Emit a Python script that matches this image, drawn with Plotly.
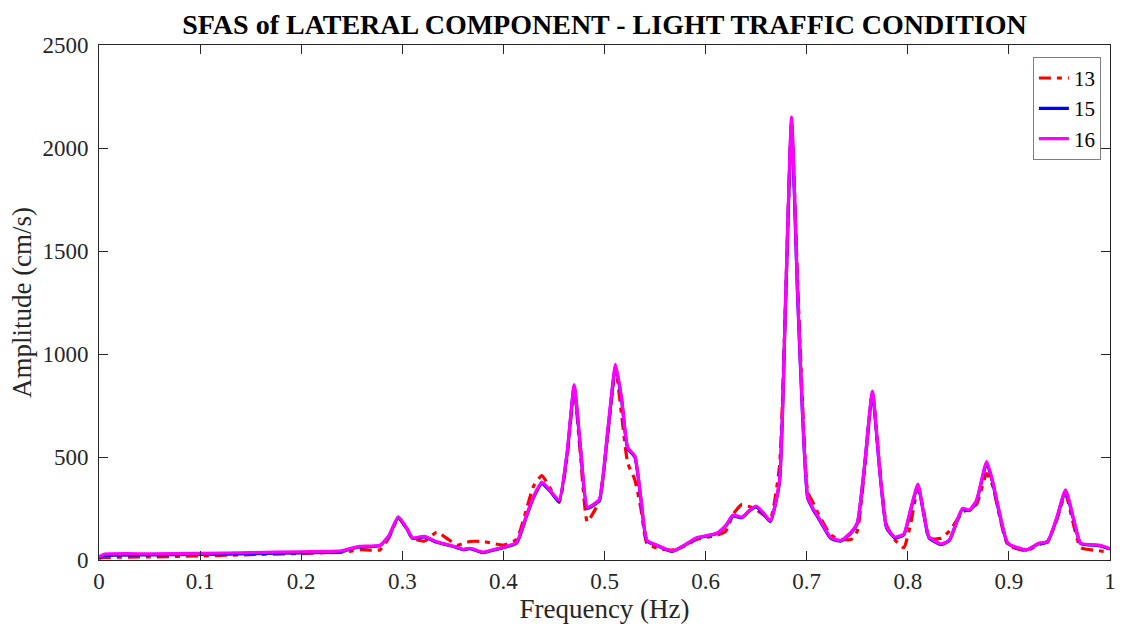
import plotly.graph_objects as go

freq = [0, 0.005, 0.05, 0.1, 0.15, 0.2, 0.24, 0.248, 0.258, 0.278, 0.287, 0.296, 0.305, 0.31,
        0.322, 0.334, 0.347, 0.354, 0.36, 0.367, 0.38, 0.39, 0.4, 0.413, 0.423, 0.43, 0.438,
        0.446, 0.455, 0.463, 0.47, 0.476, 0.483, 0.489, 0.495, 0.503, 0.511, 0.517, 0.523,
        0.53, 0.536, 0.542, 0.552, 0.567, 0.58, 0.591, 0.611, 0.62, 0.627, 0.636, 0.643, 0.65,
        0.657, 0.664, 0.673, 0.679, 0.685, 0.691, 0.696, 0.701, 0.706, 0.712, 0.724, 0.734,
        0.744, 0.75, 0.757, 0.765, 0.772, 0.779, 0.787, 0.796, 0.803, 0.81, 0.816, 0.821,
        0.833, 0.841, 0.854, 0.861, 0.868, 0.878, 0.884, 0.89, 0.899, 0.917, 0.93, 0.938,
        0.947, 0.956, 0.964, 0.971, 0.989, 1.0]

s13 = [8, 12, 15, 20, 26, 32, 38, 42, 50, 50, 110, 205, 145, 105,
       92, 135, 95, 72, 80, 90, 90, 80, 72, 100, 250, 360, 410,
       350, 280, 500, 830, 520, 185, 230, 290, 600, 930, 700, 470,
       390, 250, 80, 58, 48, 70, 100, 120, 140, 220, 270, 260, 245,
       220, 200, 450, 1250, 2120, 1350, 750, 330, 280, 220, 120, 100,
       100, 140, 430, 810, 460, 170, 100, 60, 180, 350, 230, 105,
       105, 140, 230, 250, 270, 420, 360, 230, 75, 45, 75, 90,
       190, 320, 170, 60, 45, 38]

s15 = [12, 22, 25, 27, 31, 35, 40, 52, 63, 70, 118, 207, 148, 105,
       112, 86, 70, 60, 50, 55, 36, 48, 60, 82, 215, 305, 370,
       335, 285, 515, 840, 555, 250, 265, 290, 610, 940, 775, 540,
       500, 295, 92, 70, 42, 73, 105, 128, 165, 214, 205, 238, 258,
       226, 186, 375, 1230, 2120, 1280, 690, 300, 248, 200, 104, 92,
       132, 176, 445, 810, 445, 156, 108, 122, 245, 362, 216, 108,
       75, 94, 246, 240, 286, 470, 375, 240, 80, 48, 80, 86,
       196, 335, 196, 80, 70, 54]

s16 = [15, 28, 30, 32, 36, 40, 44, 55, 66, 72, 120, 210, 150, 108,
       115, 88, 72, 62, 52, 57, 38, 50, 62, 85, 220, 310, 378,
       340, 290, 520, 850, 560, 255, 270, 295, 620, 950, 780, 545,
       505, 300, 95, 72, 44, 75, 108, 130, 168, 218, 208, 240, 262,
       230, 190, 380, 1250, 2150, 1300, 700, 306, 252, 205, 108, 95,
       135, 180, 450, 820, 450, 160, 112, 126, 250, 368, 220, 112,
       78, 97, 250, 243, 290, 478, 380, 245, 82, 50, 82, 88,
       200, 340, 200, 82, 72, 55]

names = ["13", "15", "16"]
colors = ["#ff0000", "#0000ff", "#ff00ff"]
dashes = ["12px,6px,5px,6px", "solid", "solid"]

FONT = "Liberation Serif, Times New Roman, serif"

fig = go.Figure()
for name, ys, c, d in zip(names, [s13, s15, s16], colors, dashes):
    fig.add_trace(go.Scatter(x=freq, y=ys, mode="lines", name=name,
                             line=dict(color=c, width=3.2, dash=d, shape="spline", smoothing=0.5)))

axis_common = dict(showline=True, linecolor="#262626", linewidth=1, mirror="allticks",
                   ticks="inside", ticklen=9, tickcolor="#262626", showgrid=False, zeroline=False,
                   automargin=False,
                   tickfont=dict(family=FONT, size=23, color="#262626"))

fig.update_layout(
    width=1122, height=631,
    margin=dict(l=99, r=12, t=45, b=71),
    paper_bgcolor="white", plot_bgcolor="white",
    title=dict(text="<b>SFAS of LATERAL COMPONENT - LIGHT TRAFFIC CONDITION</b>",
               font=dict(family=FONT, size=28, color="black"),
               x=0.5, xref="paper", xanchor="center", y=0.962, yanchor="middle"),
    xaxis=dict(range=[0, 1], dtick=0.1, tick0=0,
               title=dict(text="Frequency (Hz)", font=dict(family=FONT, size=27, color="#262626"),
                          standoff=6),
               **axis_common),
    yaxis=dict(range=[0, 2500], dtick=500, tick0=0, ticklabelstandoff=5,
               title=dict(text="Amplitude (cm/s)", font=dict(family=FONT, size=27, color="#262626"),
                          standoff=2),
               **axis_common),
    legend=dict(x=0.991, y=0.977, xanchor="right", yanchor="top",
                bgcolor="white", bordercolor="#7f7f7f", borderwidth=1,
                font=dict(family=FONT, size=21, color="black"),
                tracegroupgap=0, itemwidth=30),
    showlegend=True,
)

fig.write_html("out.html")
